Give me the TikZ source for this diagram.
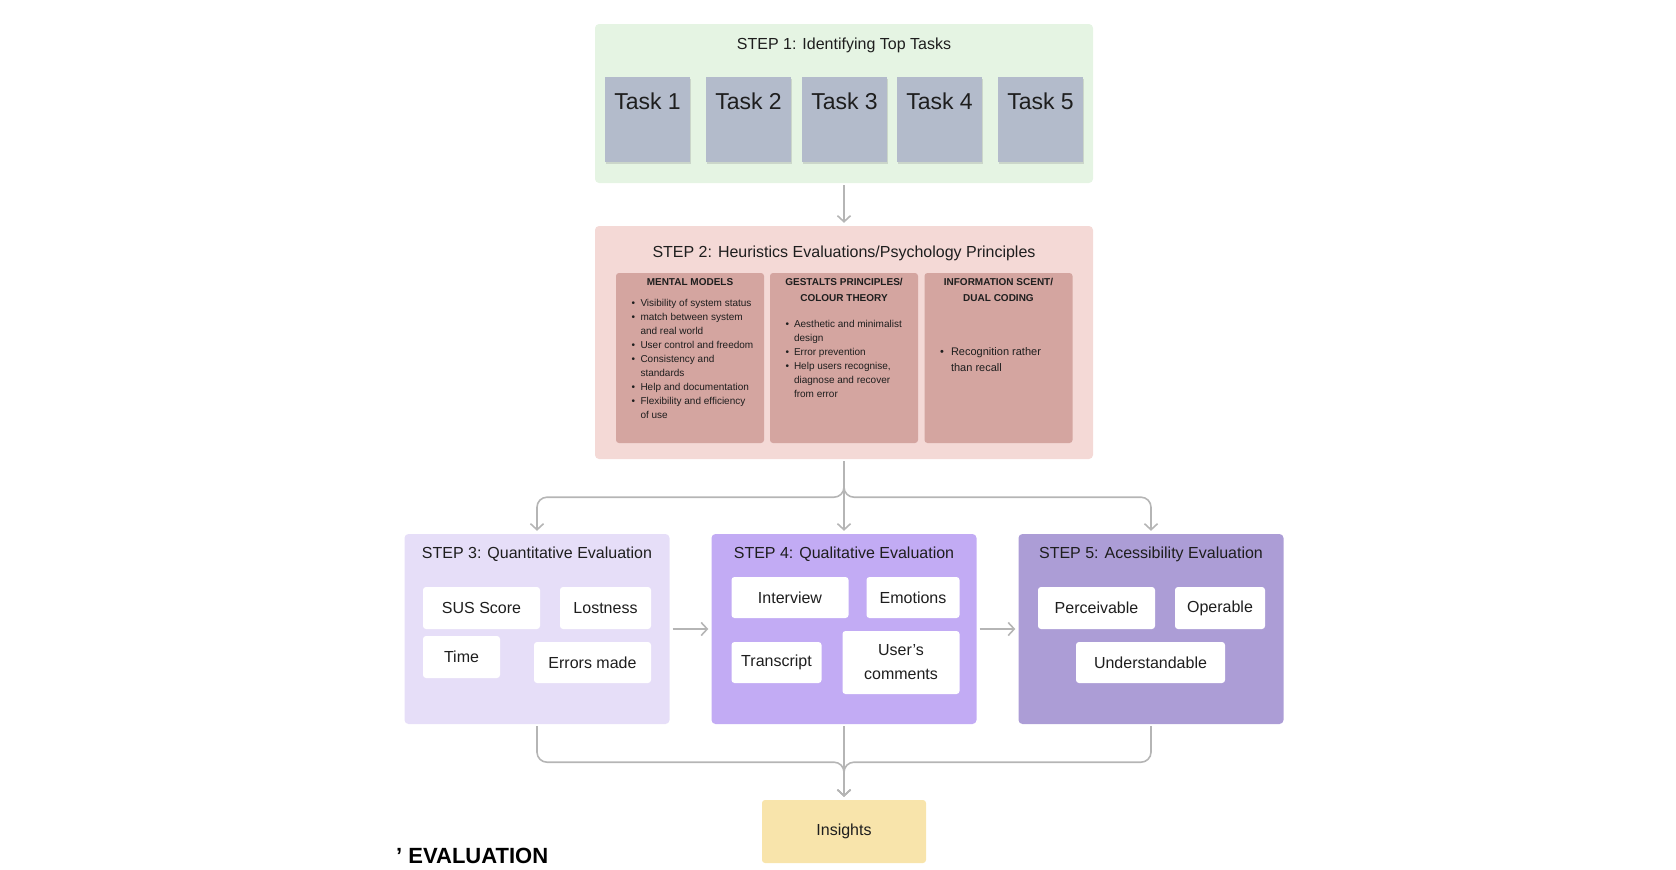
\documentclass[tikz,border=0pt]{standalone}
\usepackage{fontspec}
\setmainfont{Liberation Sans}
\usetikzlibrary{arrows.meta,shadows}
\definecolor{ink}{HTML}{1E1E1E}
\definecolor{greenbg}{HTML}{E5F4E3}
\definecolor{taskgray}{HTML}{B3BBCB}
\definecolor{pinkbg}{HTML}{F4D9D6}
\definecolor{rosebox}{HTML}{D4A5A0}
\definecolor{lilac}{HTML}{E6DEF8}
\definecolor{lavender}{HTML}{C2ABF4}
\definecolor{dusk}{HTML}{AC9DD6}
\definecolor{butter}{HTML}{F8E4AB}
\definecolor{flowgray}{HTML}{B5B5B5}
\newcommand{\pxfont}[2]{\fontsize{#1pt}{#2pt}\selectfont}
\begin{document}
\begin{tikzpicture}[x=1pt,y=-1pt,
  panel/.style={rounded corners=4pt,inner sep=0pt},
  title/.style={anchor=base,text=ink,font=\pxfont{16}{19}},
  taskbox/.style={fill=taskgray,minimum width=85pt,minimum height=85pt,inner sep=0pt,
    drop shadow={shadow xshift=0.5pt,shadow yshift=-1.5pt,opacity=0.25}},
  tasklabel/.style={anchor=base,yshift=-33pt,text=ink,font=\pxfont{23}{27}},
  principle/.style={fill=rosebox,rounded corners=3pt,minimum width=148pt,minimum height=170pt,inner sep=0pt},
  headtext/.style={anchor=north,align=center,inner sep=0pt,text=ink,font=\bfseries\pxfont{10}{16}},
  bullets/.style={anchor=north west,inner sep=0pt,text=ink,font=\pxfont{10}{14}},
  chip/.style={fill=white,rounded corners=3pt,minimum height=42pt,inner sep=0pt,text=ink,font=\pxfont{16}{24},align=center},
  flow/.style={draw=flowgray,line width=1.6pt,-{Straight Barb[length=6pt,width=13pt]},shorten <=2pt,shorten >=3pt}]
\useasboundingbox(0,0)rectangle(1676,870);
% step 1
\node[panel,fill=greenbg,minimum width=498pt,minimum height=159pt](stepone)at(844,103.5){};
\node[title](steponetitle)at(844,49.3){STEP 1: Identifying Top Tasks};
\foreach \x[count=\i] in {647.5,748.5,844.5,939.5,1040.5}
  \node[taskbox,label={[tasklabel]north:Task \i}](task\i)at(\x,119.5){};
% step 2
\node[panel,fill=pinkbg,minimum width=498pt,minimum height=233pt](steptwo)at(844,342.5){};
\node[title](steptwotitle)at(844,257.3){STEP 2: Heuristics Evaluations/Psychology Principles};
\node[principle](mental)at(690,358){};
\node[principle](gestalt)at(844,358){};
\node[principle](scent)at(998.5,358){};
\node[headtext](mentalhead)at(690,278.3){MENTAL MODELS};
\node[headtext](gestalthead)at(844,278.3){GESTALTS PRINCIPLES/\\COLOUR THEORY};
\node[headtext](scenthead)at(998.5,278.3){INFORMATION SCENT/\\DUAL CODING};
\node[bullets](mentallist)at(631.3,296.8){\begin{tabular}{@{}c@{\hspace{5.5pt}}l@{}}
\textbullet&Visibility of system status\\
\textbullet&match between system\\
&and real world\\
\textbullet&User control and freedom\\
\textbullet&Consistency and\\
&standards\\
\textbullet&Help and documentation\\
\textbullet&Flexibility and efficiency\\
&of use
\end{tabular}};
\node[bullets](gestaltlist)at(785.3,317.8){\begin{tabular}{@{}c@{\hspace{5pt}}l@{}}
\textbullet&Aesthetic and minimalist\\
&design\\
\textbullet&Error prevention\\
\textbullet&Help users recognise,\\
&diagnose and recover\\
&from error
\end{tabular}};
\node[bullets,font=\pxfont{11}{16}](scentlist)at(940,343.8){\begin{tabular}{@{}c@{\hspace{7pt}}l@{}}
\textbullet&Recognition rather\\
&than recall
\end{tabular}};
% steps 3 to 5
\node[panel,fill=lilac,minimum width=265pt,minimum height=190pt](stepthree)at(537,629){};
\node[panel,fill=lavender,minimum width=265pt,minimum height=190pt](stepfour)at(844,629){};
\node[panel,fill=dusk,minimum width=265pt,minimum height=190pt](stepfive)at(1151,629){};
\node[title](stepthreetitle)at(537,558){STEP 3: Quantitative Evaluation};
\node[title](stepfourtitle)at(844,558){STEP 4: Qualitative Evaluation};
\node[title](stepfivetitle)at(1151,558){STEP 5: Acessibility Evaluation};
\node[chip,minimum width=117pt](sus)at(481.5,608){SUS Score};
\node[chip,minimum width=91pt](lostness)at(605.5,608){Lostness};
\node[chip,minimum width=77pt](time)at(461.5,657){Time};
\node[chip,minimum width=117pt,minimum height=41pt](errors)at(592.5,662.5){Errors made};
\node[chip,minimum width=117pt,minimum height=41pt](interview)at(790,597.5){Interview};
\node[chip,minimum width=93pt,minimum height=41pt](emotions)at(913,597.5){Emotions};
\node[chip,minimum width=90pt,minimum height=41pt](transcript)at(776.5,662.5){Transcript};
\node[chip,minimum width=117pt,minimum height=63pt](comments)at(901,662.5){User’s\\comments};
\node[chip,minimum width=117pt](perceivable)at(1096.5,608){Perceivable};
\node[chip,minimum width=90pt](operable)at(1220,608){Operable};
\node[chip,minimum width=149pt,minimum height=41pt](understandable)at(1150.5,662.5){Understandable};
% result
\node[panel,fill=butter,rounded corners=3pt,minimum width=164pt,minimum height=63pt,text=ink,font=\pxfont{16}{19}](insights)at(844,831.5){Insights};
\node[anchor=base west,inner sep=0pt,font=\bfseries\pxfont{22}{26}](evaltitle)at(396,863){’ EVALUATION};
% connectors
\draw[flow](stepone)--(steptwo);
\draw[flow](steptwo)--(stepfour);
\draw[flow,rounded corners=10pt](steptwo.south)--++(0,38)-|(stepthree.north);
\draw[flow,rounded corners=10pt](steptwo.south)--++(0,38)-|(stepfive.north);
\draw[flow,shorten <=3pt](stepthree)--(stepfour);
\draw[flow,shorten <=3pt](stepfour)--(stepfive);
\draw[flow,rounded corners=10pt](stepthree.south)--++(0,38)-|(insights.north);
\draw[flow,rounded corners=10pt](stepfive.south)--++(0,38)-|(insights.north);
\draw[flow](stepfour)--(insights);
\end{tikzpicture}
\end{document}
